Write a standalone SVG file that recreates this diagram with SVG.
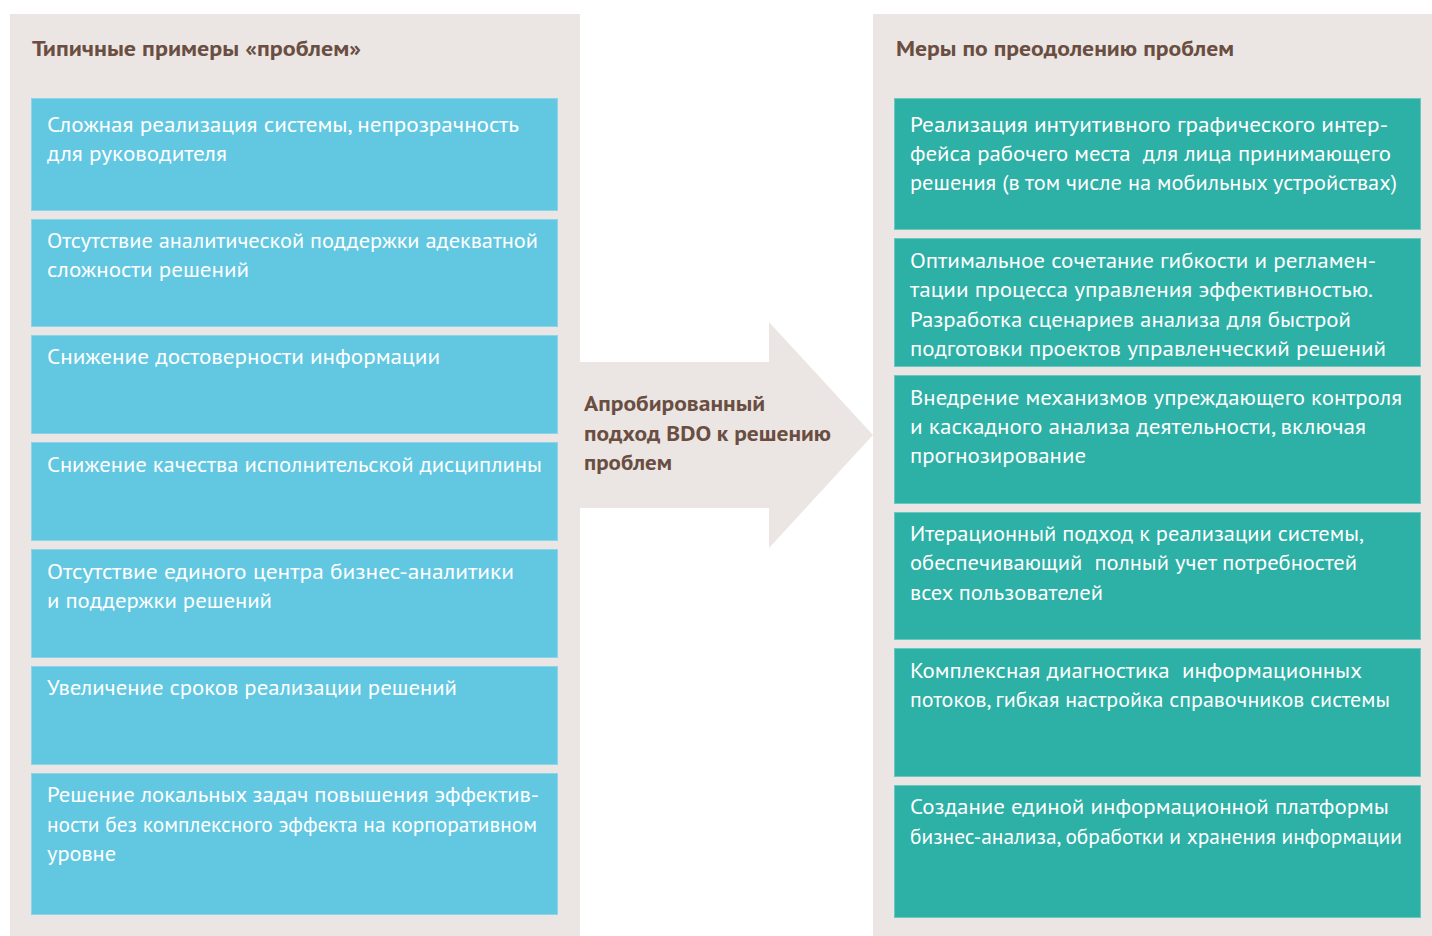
<svg xmlns="http://www.w3.org/2000/svg" width="1432" height="936" viewBox="0 0 1432 936">
<style>
.panel{fill:#ebe6e3}
.lb{fill:#62c8e2;stroke:#8ad5e9;stroke-width:1}
.rb{fill:#2db0a5;stroke:#6cc7c0;stroke-width:1}
.hd{font-family:"PT Sans","Roboto","Liberation Sans",sans-serif;font-weight:bold;font-size:21px;fill:#6a4e42}
.at{font-family:"PT Sans","Roboto","Liberation Sans",sans-serif;font-weight:bold;font-size:21px;fill:#6a4e42}
.bt{font-family:"PT Sans","Roboto","Liberation Sans",sans-serif;font-weight:300;font-size:22px;fill:#ffffff}
</style>
<rect width="1432" height="936" fill="#ffffff"/>
<g id="left-panel">
<rect class="panel" x="10" y="14" width="570" height="922"/>
<text class="hd" x="32" y="56" textLength="329" lengthAdjust="spacingAndGlyphs">Типичные примеры «проблем»</text>
</g>
<g id="right-panel">
<rect class="panel" x="873" y="14" width="559" height="922"/>
<text class="hd" x="896" y="56" textLength="338" lengthAdjust="spacingAndGlyphs">Меры по преодолению проблем</text>
</g>
<g id="connectors">
<polygon id="arrow" class="panel" points="580,362 769,362 769,322 873,435 769,548 769,508 580,508"/>
<text class="at" x="584" y="411" textLength="181" lengthAdjust="spacingAndGlyphs">Апробированный</text>
<text class="at" x="584" y="441" textLength="247" lengthAdjust="spacingAndGlyphs">подход BDO к решению</text>
<text class="at" x="584" y="470" textLength="88" lengthAdjust="spacingAndGlyphs">проблем</text>
</g>
<g id="p1"><rect class="lb" x="31.5" y="98.5" width="526" height="112"/>
<text class="bt" x="47" y="132" textLength="472" lengthAdjust="spacingAndGlyphs">Сложная реализация системы, непрозрачность</text>
<text class="bt" x="47" y="161" textLength="180" lengthAdjust="spacingAndGlyphs">для руководителя</text></g>
<g id="p2"><rect class="lb" x="31.5" y="219.5" width="526" height="107"/>
<text class="bt" x="47" y="248" textLength="491" lengthAdjust="spacingAndGlyphs">Отсутствие аналитической поддержки адекватной</text>
<text class="bt" x="47" y="277" textLength="202" lengthAdjust="spacingAndGlyphs">сложности решений</text></g>
<g id="p3"><rect class="lb" x="31.5" y="335.5" width="526" height="98"/>
<text class="bt" x="47" y="364" textLength="393" lengthAdjust="spacingAndGlyphs">Снижение достоверности информации</text></g>
<g id="p4"><rect class="lb" x="31.5" y="442.5" width="526" height="98"/>
<text class="bt" x="47" y="472" textLength="495" lengthAdjust="spacingAndGlyphs">Снижение качества исполнительской дисциплины</text></g>
<g id="p5"><rect class="lb" x="31.5" y="549.5" width="526" height="108"/>
<text class="bt" x="47" y="579" textLength="467" lengthAdjust="spacingAndGlyphs">Отсутствие единого центра бизнес-аналитики</text>
<text class="bt" x="47" y="608" textLength="225" lengthAdjust="spacingAndGlyphs">и поддержки решений</text></g>
<g id="p6"><rect class="lb" x="31.5" y="666.5" width="526" height="98"/>
<text class="bt" x="47" y="695" textLength="410" lengthAdjust="spacingAndGlyphs">Увеличение сроков реализации решений</text></g>
<g id="p7"><rect class="lb" x="31.5" y="773.5" width="526" height="141"/>
<text class="bt" x="47" y="802" textLength="492" lengthAdjust="spacingAndGlyphs">Решение локальных задач повышения эффектив-</text>
<text class="bt" x="47" y="832" textLength="490" lengthAdjust="spacingAndGlyphs">ности без комплексного эффекта на корпоративном</text>
<text class="bt" x="47" y="861" textLength="69" lengthAdjust="spacingAndGlyphs">уровне</text></g>
<g id="s1"><rect class="rb" x="894.5" y="98.5" width="526" height="131"/>
<text class="bt" x="910" y="132" textLength="478" lengthAdjust="spacingAndGlyphs">Реализация интуитивного графического интер-</text>
<text class="bt" x="910" y="161" textLength="481" lengthAdjust="spacingAndGlyphs" xml:space="preserve">фейса рабочего места  для лица принимающего</text>
<text class="bt" x="910" y="190" textLength="487" lengthAdjust="spacingAndGlyphs">решения (в том числе на мобильных устройствах)</text></g>
<g id="s2"><rect class="rb" x="894.5" y="238.5" width="526" height="128"/>
<text class="bt" x="910" y="268" textLength="466" lengthAdjust="spacingAndGlyphs">Оптимальное сочетание гибкости и регламен-</text>
<text class="bt" x="910" y="297" textLength="463" lengthAdjust="spacingAndGlyphs">тации процесса управления эффективностью.</text>
<text class="bt" x="910" y="327" textLength="441" lengthAdjust="spacingAndGlyphs">Разработка сценариев анализа для быстрой</text>
<text class="bt" x="910" y="356" textLength="476" lengthAdjust="spacingAndGlyphs">подготовки проектов управленческий решений</text></g>
<g id="s3"><rect class="rb" x="894.5" y="375.5" width="526" height="128"/>
<text class="bt" x="910" y="405" textLength="492" lengthAdjust="spacingAndGlyphs">Внедрение механизмов упреждающего контроля</text>
<text class="bt" x="910" y="434" textLength="456" lengthAdjust="spacingAndGlyphs">и каскадного анализа деятельности, включая</text>
<text class="bt" x="910" y="463" textLength="176" lengthAdjust="spacingAndGlyphs">прогнозирование</text></g>
<g id="s4"><rect class="rb" x="894.5" y="512.5" width="526" height="127"/>
<text class="bt" x="910" y="541" textLength="454" lengthAdjust="spacingAndGlyphs">Итерационный подход к реализации системы,</text>
<text class="bt" x="910" y="570" textLength="447" lengthAdjust="spacingAndGlyphs" xml:space="preserve">обеспечивающий  полный учет потребностей</text>
<text class="bt" x="910" y="600" textLength="193" lengthAdjust="spacingAndGlyphs">всех пользователей</text></g>
<g id="s5"><rect class="rb" x="894.5" y="648.5" width="526" height="128"/>
<text class="bt" x="910" y="678" textLength="452" lengthAdjust="spacingAndGlyphs" xml:space="preserve">Комплексная диагностика  информационных</text>
<text class="bt" x="910" y="707" textLength="480" lengthAdjust="spacingAndGlyphs">потоков, гибкая настройка справочников системы</text></g>
<g id="s6"><rect class="rb" x="894.5" y="785.5" width="526" height="132"/>
<text class="bt" x="910" y="814" textLength="479" lengthAdjust="spacingAndGlyphs">Создание единой информационной платформы</text>
<text class="bt" x="910" y="844" textLength="492" lengthAdjust="spacingAndGlyphs">бизнес-анализа, обработки и хранения информации</text></g>
</svg>
